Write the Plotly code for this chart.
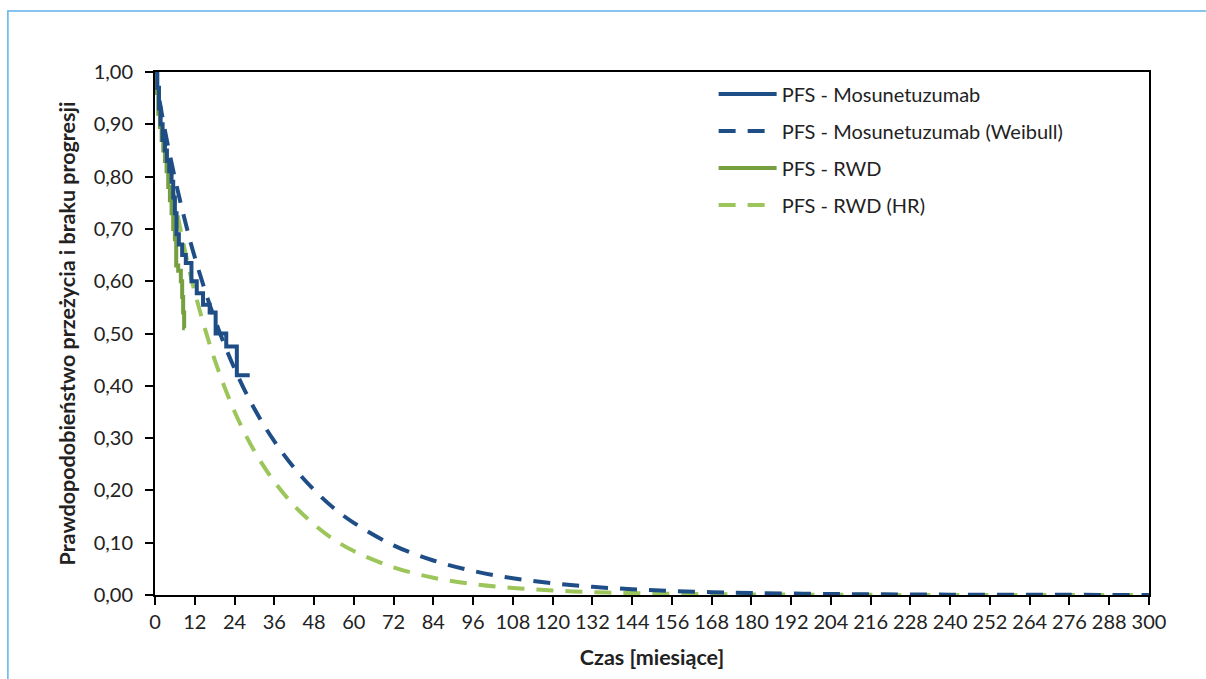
import plotly.graph_objects as go

# ---- data ----
km_mosun_t = [0, 0.7, 1.2, 1.7, 2.3, 3.0, 3.6, 4.3, 5.0, 5.5, 6.0, 6.5, 7.2, 8.2, 9.3, 11.0, 12.6, 14.5, 16.5, 18.3, 21.5, 24.7, 28.6]
km_mosun_s = [1.0, 0.97, 0.93, 0.90, 0.87, 0.85, 0.83, 0.81, 0.79, 0.76, 0.73, 0.69, 0.67, 0.65, 0.635, 0.60, 0.577, 0.555, 0.54, 0.50, 0.475, 0.42, 0.42]

km_rwd_t = [0, 0.5, 1.0, 1.5, 2.0, 2.5, 3.0, 3.5, 4.0, 4.5, 5.0, 5.5, 6.0, 6.4, 7.0, 7.8, 8.2, 8.5, 8.8, 9.0]
km_rwd_s = [1.0, 0.96, 0.92, 0.895, 0.87, 0.85, 0.83, 0.81, 0.78, 0.755, 0.73, 0.70, 0.68, 0.63, 0.62, 0.60, 0.57, 0.54, 0.51, 0.51]

fit_t = [0, 1, 3, 6, 9, 12, 18, 24, 30, 36, 42, 48, 54, 60, 72, 84, 96, 108, 120, 132, 144, 156, 168, 180, 204, 228, 252, 276, 300]
weib_mosun = [1.0, 0.959, 0.888, 0.797, 0.717, 0.646, 0.528, 0.433, 0.356, 0.294, 0.243, 0.201, 0.166, 0.138, 0.095, 0.066,
              0.046, 0.032, 0.0224, 0.0156, 0.011, 0.0077, 0.0054, 0.0038, 0.0019, 0.001, 0.0005, 0.0003, 0.0001]
hr_rwd = [1.0, 0.949, 0.862, 0.753, 0.660, 0.579, 0.450, 0.351, 0.275, 0.217, 0.171, 0.135, 0.106, 0.084, 0.053, 0.033,
          0.021, 0.0136, 0.0087, 0.0055, 0.0036, 0.0023, 0.0015, 0.001, 0.0005, 0.0002, 0.0001, 0.0001, 0.0]

x_ticks = list(range(0, 301, 12))
y_ticks = [0, 0.1, 0.2, 0.3, 0.4, 0.5, 0.6, 0.7, 0.8, 0.9, 1.0]

BLUE = "#1F4E87"
GREEN = "#76A040"
LGREEN = "#9CC55A"
FONT = "Lato"
TXT = "#222222"

fig = go.Figure()
fig.add_trace(go.Scatter(x=fit_t, y=hr_rwd, mode="lines", name="PFS - RWD (HR)",
                         line=dict(color=LGREEN, width=4, dash="17px,12px", shape="spline"),
                         legendgroup="d", legendrank=4))
fig.add_trace(go.Scatter(x=fit_t, y=weib_mosun, mode="lines", name="PFS - Mosunetuzumab (Weibull)",
                         line=dict(color=BLUE, width=4, dash="17px,12px", shape="spline"),
                         legendgroup="b", legendrank=2))
fig.add_trace(go.Scatter(x=km_rwd_t, y=km_rwd_s, mode="lines", name="PFS - RWD",
                         line=dict(color=GREEN, width=4, shape="hv"),
                         legendgroup="c", legendrank=3))
fig.add_trace(go.Scatter(x=km_mosun_t, y=km_mosun_s, mode="lines", name="PFS - Mosunetuzumab",
                         line=dict(color=BLUE, width=4, shape="hv"),
                         legendgroup="a", legendrank=1))

fig.update_layout(
    width=1206, height=679,
    margin=dict(l=155, r=57, t=72, b=84),
    paper_bgcolor="white", plot_bgcolor="white",
    separators=", ",
    font=dict(family=FONT, size=20, color=TXT),
    legend=dict(x=0.562, y=0.995, xanchor="left", yanchor="top",
                font=dict(family=FONT, size=20, color=TXT),
                bgcolor="rgba(0,0,0,0)", itemwidth=58, tracegroupgap=8,
                traceorder="grouped"),
    xaxis=dict(range=[0, 300], tickvals=x_ticks, ticks="outside", ticklen=8, tickwidth=1.5,
               tickcolor="black", showline=True, linecolor="black", linewidth=2, mirror=True,
               showgrid=False, zeroline=False,
               tickfont=dict(family=FONT, size=20, color=TXT),
               title=dict(text="<b>Czas [miesiące]</b>", font=dict(family=FONT, size=21.5, color=TXT),
                          standoff=18)),
    yaxis=dict(range=[0, 1.0], tickvals=y_ticks, tickformat=".2f", ticks="outside", ticklen=8,
               tickwidth=1.5, tickcolor="black", showline=True, linecolor="black", linewidth=2,
               mirror=True, showgrid=False, zeroline=False, ticklabelstandoff=8,
               tickfont=dict(family=FONT, size=20, color=TXT),
               title=dict(text="<b>Prawdopodobieństwo przeżycia i braku progresji</b>",
                          font=dict(family=FONT, size=21.5, color=TXT), standoff=12)),
    shapes=[dict(type="rect", xref="paper", yref="paper", x0=-0.148, x1=1.2, y0=-0.3, y1=1.1166,
                 line=dict(color="#5DB3EA", width=1.5), fillcolor="rgba(0,0,0,0)", layer="below")],
)

fig.write_html("out.html")
